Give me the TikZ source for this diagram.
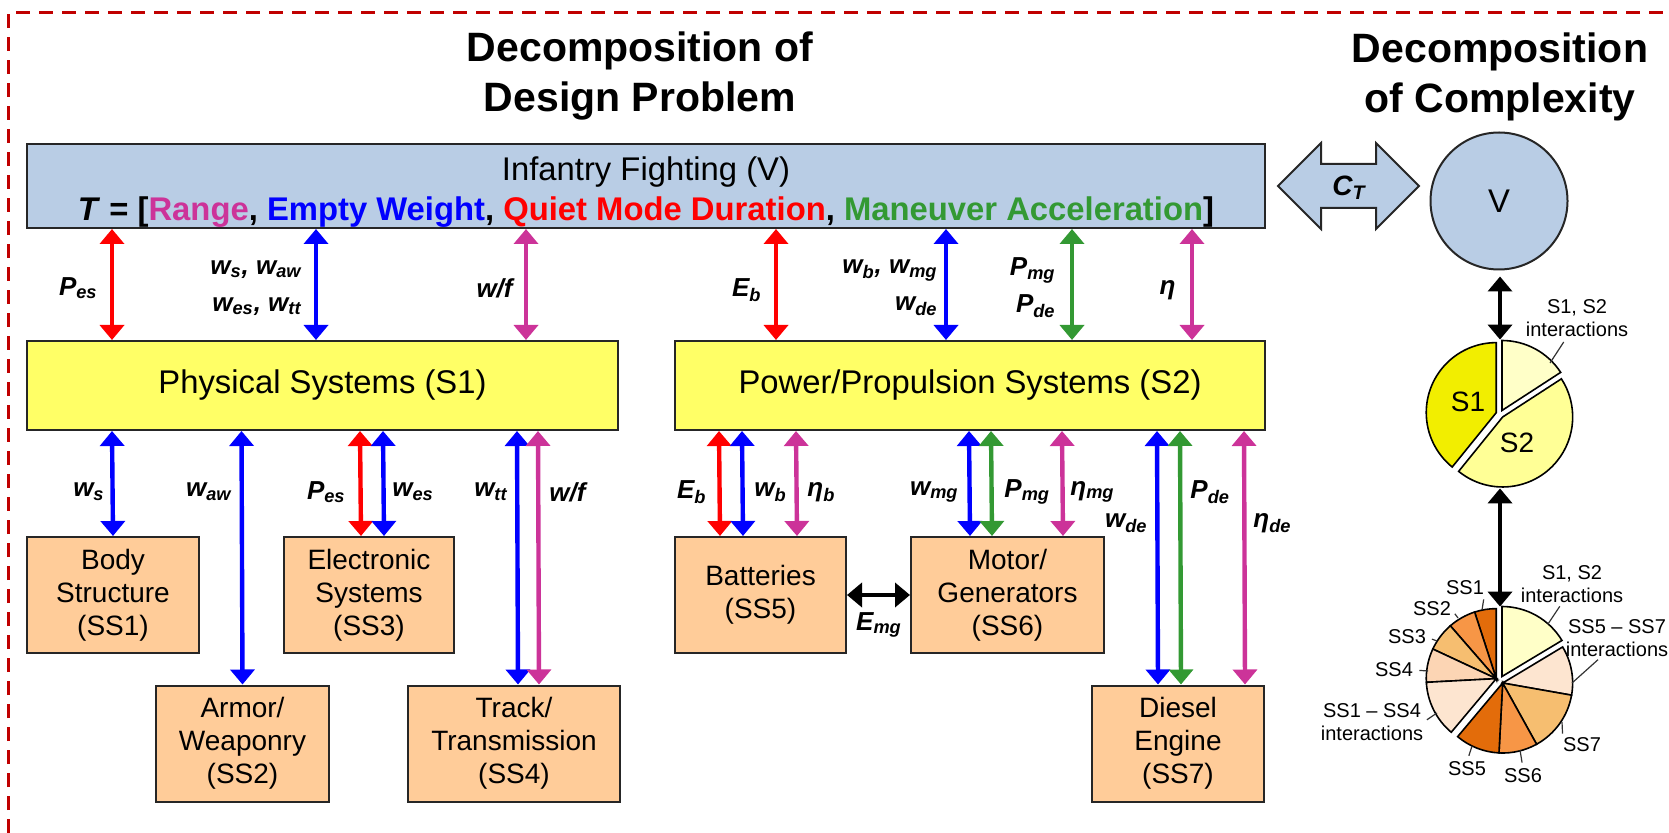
\documentclass[tikz,border=0pt]{standalone}
\usepackage{fontspec}
\setmainfont{Liberation Sans}
\usepackage{tikz}
\usetikzlibrary{arrows.meta}

\definecolor{framered}{RGB}{192,0,0}
\definecolor{vblue}{RGB}{185,205,229}
\definecolor{sysyellow}{RGB}{255,255,102}
\definecolor{subpeach}{RGB}{255,204,153}
\definecolor{flowred}{RGB}{255,0,0}
\definecolor{flowblue}{RGB}{0,0,255}
\definecolor{flowpink}{RGB}{204,51,153}
\definecolor{flowgreen}{RGB}{51,153,51}
\definecolor{pieSone}{RGB}{242,238,0}
\definecolor{pieint}{RGB}{255,255,200}
\definecolor{pieStwo}{RGB}{255,255,150}
\definecolor{ssdark}{RGB}{227,108,10}
\definecolor{ssmid}{RGB}{247,150,70}
\definecolor{sslight}{RGB}{246,190,112}
\definecolor{sspale}{RGB}{252,213,180}
\definecolor{ssint}{RGB}{253,229,208}

\newcommand{\vsub}[2]{#1\textsubscript{#2}}

\begin{document}
\begin{tikzpicture}[x=0.5pt,y=-0.5pt,
    box/.style={draw=black!85,line width=1pt,inner sep=0pt},
    title/.style={align=center,font=\fontsize{20.5}{25}\selectfont\bfseries},
    topbox/.style={box,fill=vblue,minimum width=619pt,minimum height=42pt},
    sysbox/.style={box,fill=sysyellow,minimum height=44.5pt,font=\fontsize{16.4}{19}\selectfont},
    subbox/.style={box,fill=subpeach,minimum width=86pt,minimum height=58pt,align=center,font=\fontsize{14}{16.5}\selectfont},
    flow/.style={line width=2.2pt,{Triangle[width=12pt,length=7.5pt]}-{Triangle[width=12pt,length=7.5pt]}},
    lab/.style={inner sep=1pt,font=\fontsize{13}{18.5}\selectfont\bfseries\itshape},
    pielab/.style={inner sep=0pt,align=center,font=\fontsize{10}{11.5}\selectfont},
    leader/.style={line width=0.6pt,black!80},
    slice/.style={draw=black,line width=0.8pt}]
    \useasboundingbox (0,0) rectangle (1669,833);
    \draw[framered,line width=1.5pt,dash pattern=on 7pt off 4.5pt] (8,833) -- (8,13) -- (1669,13);

    % titles
    \node[title] (tdesign) at (640,76) {Decomposition of\\Design Problem};
    \node[title] (tcomplex) at (1500,77) {Decomposition\\of Complexity};

    % vehicle and systems
    \node[topbox] (v) at (646,186) {};
    \node[align=center,font=\fontsize{16.4}{20}\selectfont] (vtext) at ([yshift=-3pt]v.center) {Infantry Fighting (V)\\
        {\bfseries\textit{T} = [\textcolor{flowpink}{Range}, \textcolor{flowblue}{Empty Weight}, \textcolor{flowred}{Quiet Mode Duration}, \textcolor{flowgreen}{Maneuver Acceleration}]}};
    \node[sysbox,minimum width=295.5pt] (s1) at (322.5,385.5) {Physical Systems (S1)};
    \node[sysbox,minimum width=295pt] (s2) at (970,385.5) {Power/Propulsion Systems (S2)};

    % subsystems
    \node[subbox] (ss1) at (113,595) {Body\\Structure\\(SS1)};
    \node[subbox,minimum width=86.5pt] (ss2) at (242.5,743.5) {Armor/\\Weaponry\\(SS2)};
    \node[subbox,minimum width=85pt] (ss3) at (369,595) {Electronic\\Systems\\(SS3)};
    \node[subbox,minimum width=106pt] (ss4) at (514,743.5) {Track/\\Transmission\\(SS4)};
    \node[subbox,minimum width=85.5pt] (ss5) at (760.5,595) {Batteries\\(SS5)};
    \node[subbox,minimum width=96.5pt] (ss6) at (1007.5,595) {Motor/\\Generators\\(SS6)};
    \node[subbox] (ss7) at (1178,743.5) {Diesel\\Engine\\(SS7)};

    % V <-> S1, S2
    \draw[flow,flowred] ([xshift=43pt]v.south west) -- ([xshift=43pt]s1.north west);
    \draw[flow,flowblue] ([xshift=145pt]v.south west) -- ([xshift=145pt]s1.north west);
    \draw[flow,flowpink] ([xshift=250pt]v.south west) -- ([xshift=250pt]s1.north west);
    \draw[flow,flowred] ([xshift=-245pt]v.south east) -- ([xshift=-245pt]s2.north east);
    \draw[flow,flowblue] ([xshift=-160pt]v.south east) -- ([xshift=-160pt]s2.north east);
    \draw[flow,flowgreen] ([xshift=-97pt]v.south east) -- ([xshift=-97pt]s2.north east);
    \draw[flow,flowpink] ([xshift=-37pt]v.south east) -- ([xshift=-37pt]s2.north east);

    % S1 <-> SS1..SS4
    \draw[flow,flowblue] ([xshift=43pt]s1.south west) -- (ss1.north);
    \draw[flow,flowblue] ([xshift=107.75pt]s1.south west) -- (ss2.north);
    \draw[flow,flowred] ([xshift=167pt]s1.south west) -- ([xshift=-4pt]ss3.north);
    \draw[flow,flowblue] ([xshift=178.5pt]s1.south west) -- ([xshift=7.5pt]ss3.north);
    \draw[flow,flowblue] ([xshift=245.5pt]s1.south west) -- ([xshift=2pt]ss4.north);
    \draw[flow,flowpink] ([xshift=256pt]s1.south west) -- ([xshift=12.5pt]ss4.north);

    % S2 <-> SS5..SS7
    \draw[flow,flowred] ([xshift=22.5pt]s2.south west) -- ([xshift=-20.25pt]ss5.north);
    \draw[flow,flowblue] ([xshift=34pt]s2.south west) -- ([xshift=-8.75pt]ss5.north);
    \draw[flow,flowpink] ([xshift=61pt]s2.south west) -- ([xshift=18.25pt]ss5.north);
    \draw[flow,flowblue] ([xshift=147.5pt]s2.south west) -- ([xshift=-18.75pt]ss6.north);
    \draw[flow,flowgreen] ([xshift=158.5pt]s2.south west) -- ([xshift=-7.75pt]ss6.north);
    \draw[flow,flowpink] ([xshift=194pt]s2.south west) -- ([xshift=27.75pt]ss6.north);
    \draw[flow,flowblue] ([xshift=241.5pt]s2.south west) -- ([xshift=-10pt]ss7.north);
    \draw[flow,flowgreen] ([xshift=253pt]s2.south west) -- ([xshift=1.5pt]ss7.north);
    \draw[flow,flowpink] ([xshift=285pt]s2.south west) -- ([xshift=33.5pt]ss7.north);
    \draw[flow] (ss5) -- (ss6);

    % flow labels
    \node[lab,anchor=east] (lpes) at (100,288) {\vsub{P}{es}};
    \node[lab,anchor=east,align=right] (lws) at (304,288) {\vsub{w}{s}, \vsub{w}{aw}\\\vsub{w}{es}, \vsub{w}{tt}};
    \node[lab,anchor=east] (lwf) at (515,288) {w/f};
    \node[lab,anchor=east] (leb) at (764,290) {\vsub{E}{b}};
    \node[lab,anchor=east,align=right] (lwb) at (940,288) {\vsub{w}{b}, \vsub{w}{mg}\\\vsub{w}{de}};
    \node[lab,anchor=east,align=right] (lpmg) at (1058,288) {\vsub{P}{mg}\\\vsub{P}{de}};
    \node[lab,anchor=east] (leta) at (1178,290) {η};

    \node[lab,anchor=east] (lws1) at (107,492) {\vsub{w}{s}};
    \node[lab,anchor=east] (lwaw) at (234,492) {\vsub{w}{aw}};
    \node[lab,anchor=east] (lpes3) at (348,492) {\vsub{P}{es}};
    \node[lab,anchor=west] (lwes) at (390,492) {\vsub{w}{es}};
    \node[lab,anchor=east] (lwtt) at (510,492) {\vsub{w}{tt}};
    \node[lab,anchor=west] (lwf4) at (547,492) {w/f};
    \node[lab,anchor=east] (leb5) at (709,492) {\vsub{E}{b}};
    \node[lab,anchor=west] (lwb5) at (752,492) {\vsub{w}{b}};
    \node[lab,anchor=west] (letab) at (805,492) {\vsub{η}{b}};
    \node[lab,anchor=east] (lwmg) at (961,492) {\vsub{w}{mg}};
    \node[lab,anchor=west] (lpmg6) at (1002,492) {\vsub{P}{mg}};
    \node[lab,anchor=west] (letamg) at (1068,492) {\vsub{η}{mg}};
    \node[lab,anchor=east] (lwde) at (1150,523) {\vsub{w}{de}};
    \node[lab,anchor=west] (lpde) at (1188,492) {\vsub{P}{de}};
    \node[lab,anchor=west] (letade) at (1251,523) {\vsub{η}{de}};
    \node[lab] (lemg) at (879,625) {\vsub{E}{mg}};

    % complexity side
    \filldraw[fill=vblue,draw=black!85,line width=1pt] (1278,186) -- (1321,143) -- (1321,164) -- (1376,164) -- (1376,143) -- (1419,186) -- (1376,229) -- (1376,208) -- (1321,208) -- (1321,229) -- cycle;
    \node[lab,font=\fontsize{14}{16}\selectfont\bfseries\itshape] (ct) at (1349,188) {\vsub{C}{T}};
    \node[circle,draw=black!85,line width=1pt,fill=vblue,minimum size=68.5pt,inner sep=0pt,font=\fontsize{16.4}{19}\selectfont] (vc) at (1499,201) {V};
    \node[circle,minimum size=74pt,inner sep=0pt] (pie1) at (1500,414) {};
    \node[circle,minimum size=73pt,inner sep=0pt] (pie2) at (1500,680) {};
    \draw[flow,shorten <=3pt] (pie1.north |- vc.south) -- (pie1.north);
    \draw[flow] (pie1.south) -- (pie2.north);

    % S1 / S2 pie
    \begin{scope}[shift={(1500,414)},x=1pt,y=1pt]
        \filldraw[slice,fill=pieSone,shift={(160:2)}] (0,0) -- (90:35) arc[start angle=90,end angle=231,radius=35] -- cycle;
        \filldraw[slice,fill=pieint,shift={(61:2)}] (0,0) -- (33:35) arc[start angle=33,end angle=90,radius=35] -- cycle;
        \filldraw[slice,fill=pieStwo,shift={(-48:2)}] (0,0) -- (-129:35) arc[start angle=-129,end angle=33,radius=35] -- cycle;
        \node[font=\fontsize{14}{16}\selectfont] (ps1) at (-16,6) {S1};
        \node[font=\fontsize{14}{16}\selectfont] (ps2) at (8.5,-14.5) {S2};
    \end{scope}

    % subsystem pie
    \begin{scope}[shift={(1500,680)},x=1pt,y=1pt]
        \filldraw[slice,fill=ssdark,shift={(160:2)}] (0,0) -- (90:35) arc[start angle=90,end angle=108,radius=35] -- cycle;
        \filldraw[slice,fill=ssmid,shift={(160:2)}] (0,0) -- (108:35) arc[start angle=108,end angle=131,radius=35] -- cycle;
        \filldraw[slice,fill=sslight,shift={(160:2)}] (0,0) -- (131:35) arc[start angle=131,end angle=155,radius=35] -- cycle;
        \filldraw[slice,fill=sspale,shift={(160:2)}] (0,0) -- (155:35) arc[start angle=155,end angle=183,radius=35] -- cycle;
        \filldraw[slice,fill=ssint,shift={(160:2)}] (0,0) -- (183:35) arc[start angle=183,end angle=230,radius=35] -- cycle;
        \filldraw[slice,fill=pieint,shift={(61:2)}] (0,0) -- (31:35) arc[start angle=31,end angle=90,radius=35] -- cycle;
        \filldraw[slice,fill=ssint,shift={(-49:2)}] (0,0) -- (-10:35) arc[start angle=-10,end angle=31,radius=35] -- cycle;
        \filldraw[slice,fill=sslight,shift={(-49:2)}] (0,0) -- (-61:35) arc[start angle=-61,end angle=-10,radius=35] -- cycle;
        \filldraw[slice,fill=ssmid,shift={(-49:2)}] (0,0) -- (-93:35) arc[start angle=-93,end angle=-61,radius=35] -- cycle;
        \filldraw[slice,fill=ssdark,shift={(-49:2)}] (0,0) -- (-130:35) arc[start angle=-130,end angle=-93,radius=35] -- cycle;
    \end{scope}

    % pie labels
    \node[pielab] (l1int) at (1577,318) {S1, S2\\interactions};
    \node[pielab] (lss1) at (1465,588) {SS1};
    \node[pielab] (lss2) at (1432,609) {SS2};
    \node[pielab] (lss3) at (1407,637) {SS3};
    \node[pielab] (lss4) at (1394,670) {SS4};
    \node[pielab] (lint2) at (1372,722) {SS1 – SS4\\interactions};
    \node[pielab] (lss5) at (1467,769) {SS5};
    \node[pielab] (lss6) at (1523,776) {SS6};
    \node[pielab] (lss7) at (1582,745) {SS7};
    \node[pielab] (lint3) at (1617,638) {SS5 – SS7\\interactions};
    \node[pielab] (lint4) at (1572,584) {S1, S2\\interactions};

    \coordinate (r1int) at (1550,363);
    \coordinate (rss1) at (1482,610);
    \coordinate (rss2) at (1458,618);
    \coordinate (rss3) at (1437,641);
    \coordinate (rss4) at (1428,671);
    \coordinate (rint2) at (1437,713);
    \coordinate (rss5) at (1472,746);
    \coordinate (rss6) at (1520,750);
    \coordinate (rss7) at (1562,722);
    \coordinate (rint3) at (1572,683);
    \coordinate (rint4) at (1548,624);

    \draw[leader,shorten <=3pt] ([xshift=-5pt]l1int.south) -- (r1int);
    \draw[leader,shorten <=2pt] (lss1.south east) -- (rss1);
    \draw[leader,shorten <=3pt] (lss2.east) -- (rss2);
    \draw[leader,shorten <=3pt] (lss3.east) -- (rss3);
    \draw[leader,shorten <=3pt] (lss4.east) -- (rss4);
    \draw[leader,shorten <=2pt] (lint2.east) -- (rint2);
    \draw[leader,shorten <=3pt] (lss5.north) -- (rss5);
    \draw[leader,shorten <=3pt] (lss6.north) -- (rss6);
    \draw[leader,shorten <=2pt] (lss7.north west) -- (rss7);
    \draw[leader,shorten <=2pt] ([xshift=-8pt]lint3.south) -- (rint3);
    \draw[leader,shorten <=2pt] ([xshift=-5pt]lint4.south) -- (rint4);
\end{tikzpicture}
\end{document}
